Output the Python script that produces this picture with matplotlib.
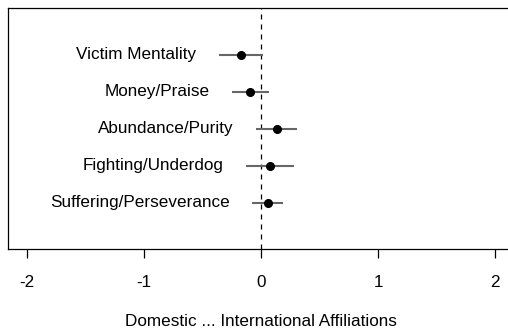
import matplotlib
matplotlib.use("Agg")
import matplotlib.pyplot as plt

plt.rcParams["font.family"] = ["Liberation Sans", "DejaVu Sans"]

labels = ["Victim Mentality", "Money/Praise", "Abundance/Purity",
          "Fighting/Underdog", "Suffering/Perseverance"]
estimates = [-0.17, -0.09, 0.14, 0.075, 0.058]
ci_low = [-0.36, -0.245, -0.04, -0.13, -0.075]
ci_high = [0.02, 0.07, 0.31, 0.285, 0.19]
ticks = [-2, -1, 0, 1, 2]

rows = list(range(len(labels), 0, -1))

fig = plt.figure(figsize=(5.08, 3.34), dpi=100)
# right edge of the box runs past the figure, as in the original
ax = fig.add_axes([8 / 508, 1 - 249 / 334, 506 / 508, 241 / 334])

ax.axvline(0, color="black", linestyle=(0, (4, 4)), linewidth=0.9)

for y, est, lo, hi, lab in zip(rows, estimates, ci_low, ci_high, labels):
    ax.plot([lo, hi], [y, y], color="#666666", linewidth=1.5, solid_capstyle="butt")
    ax.plot(est, y, "o", color="black", markersize=5.5)
    ax.annotate(lab, xy=(lo, y), xytext=(-16, 0), textcoords="offset points",
                ha="right", va="center", fontsize=12.3)

ax.set_xlim(-2.16, 2.16)
ax.set_ylim(-0.25, 6.27)
ax.set_yticks([])
ax.set_xticks(ticks)
ax.set_xticklabels([str(t) for t in ticks])
ax.tick_params(axis="x", direction="out", length=6.5, width=0.9, pad=12.5,
               labelsize=12.3)
for s in ax.spines.values():
    s.set_linewidth(0.9)
    s.set_color("black")
ax.spines["right"].set_visible(False)

ax.set_xlabel("Domestic ... International Affiliations", fontsize=12.3, labelpad=17)

fig.savefig("out.png", dpi=100)
